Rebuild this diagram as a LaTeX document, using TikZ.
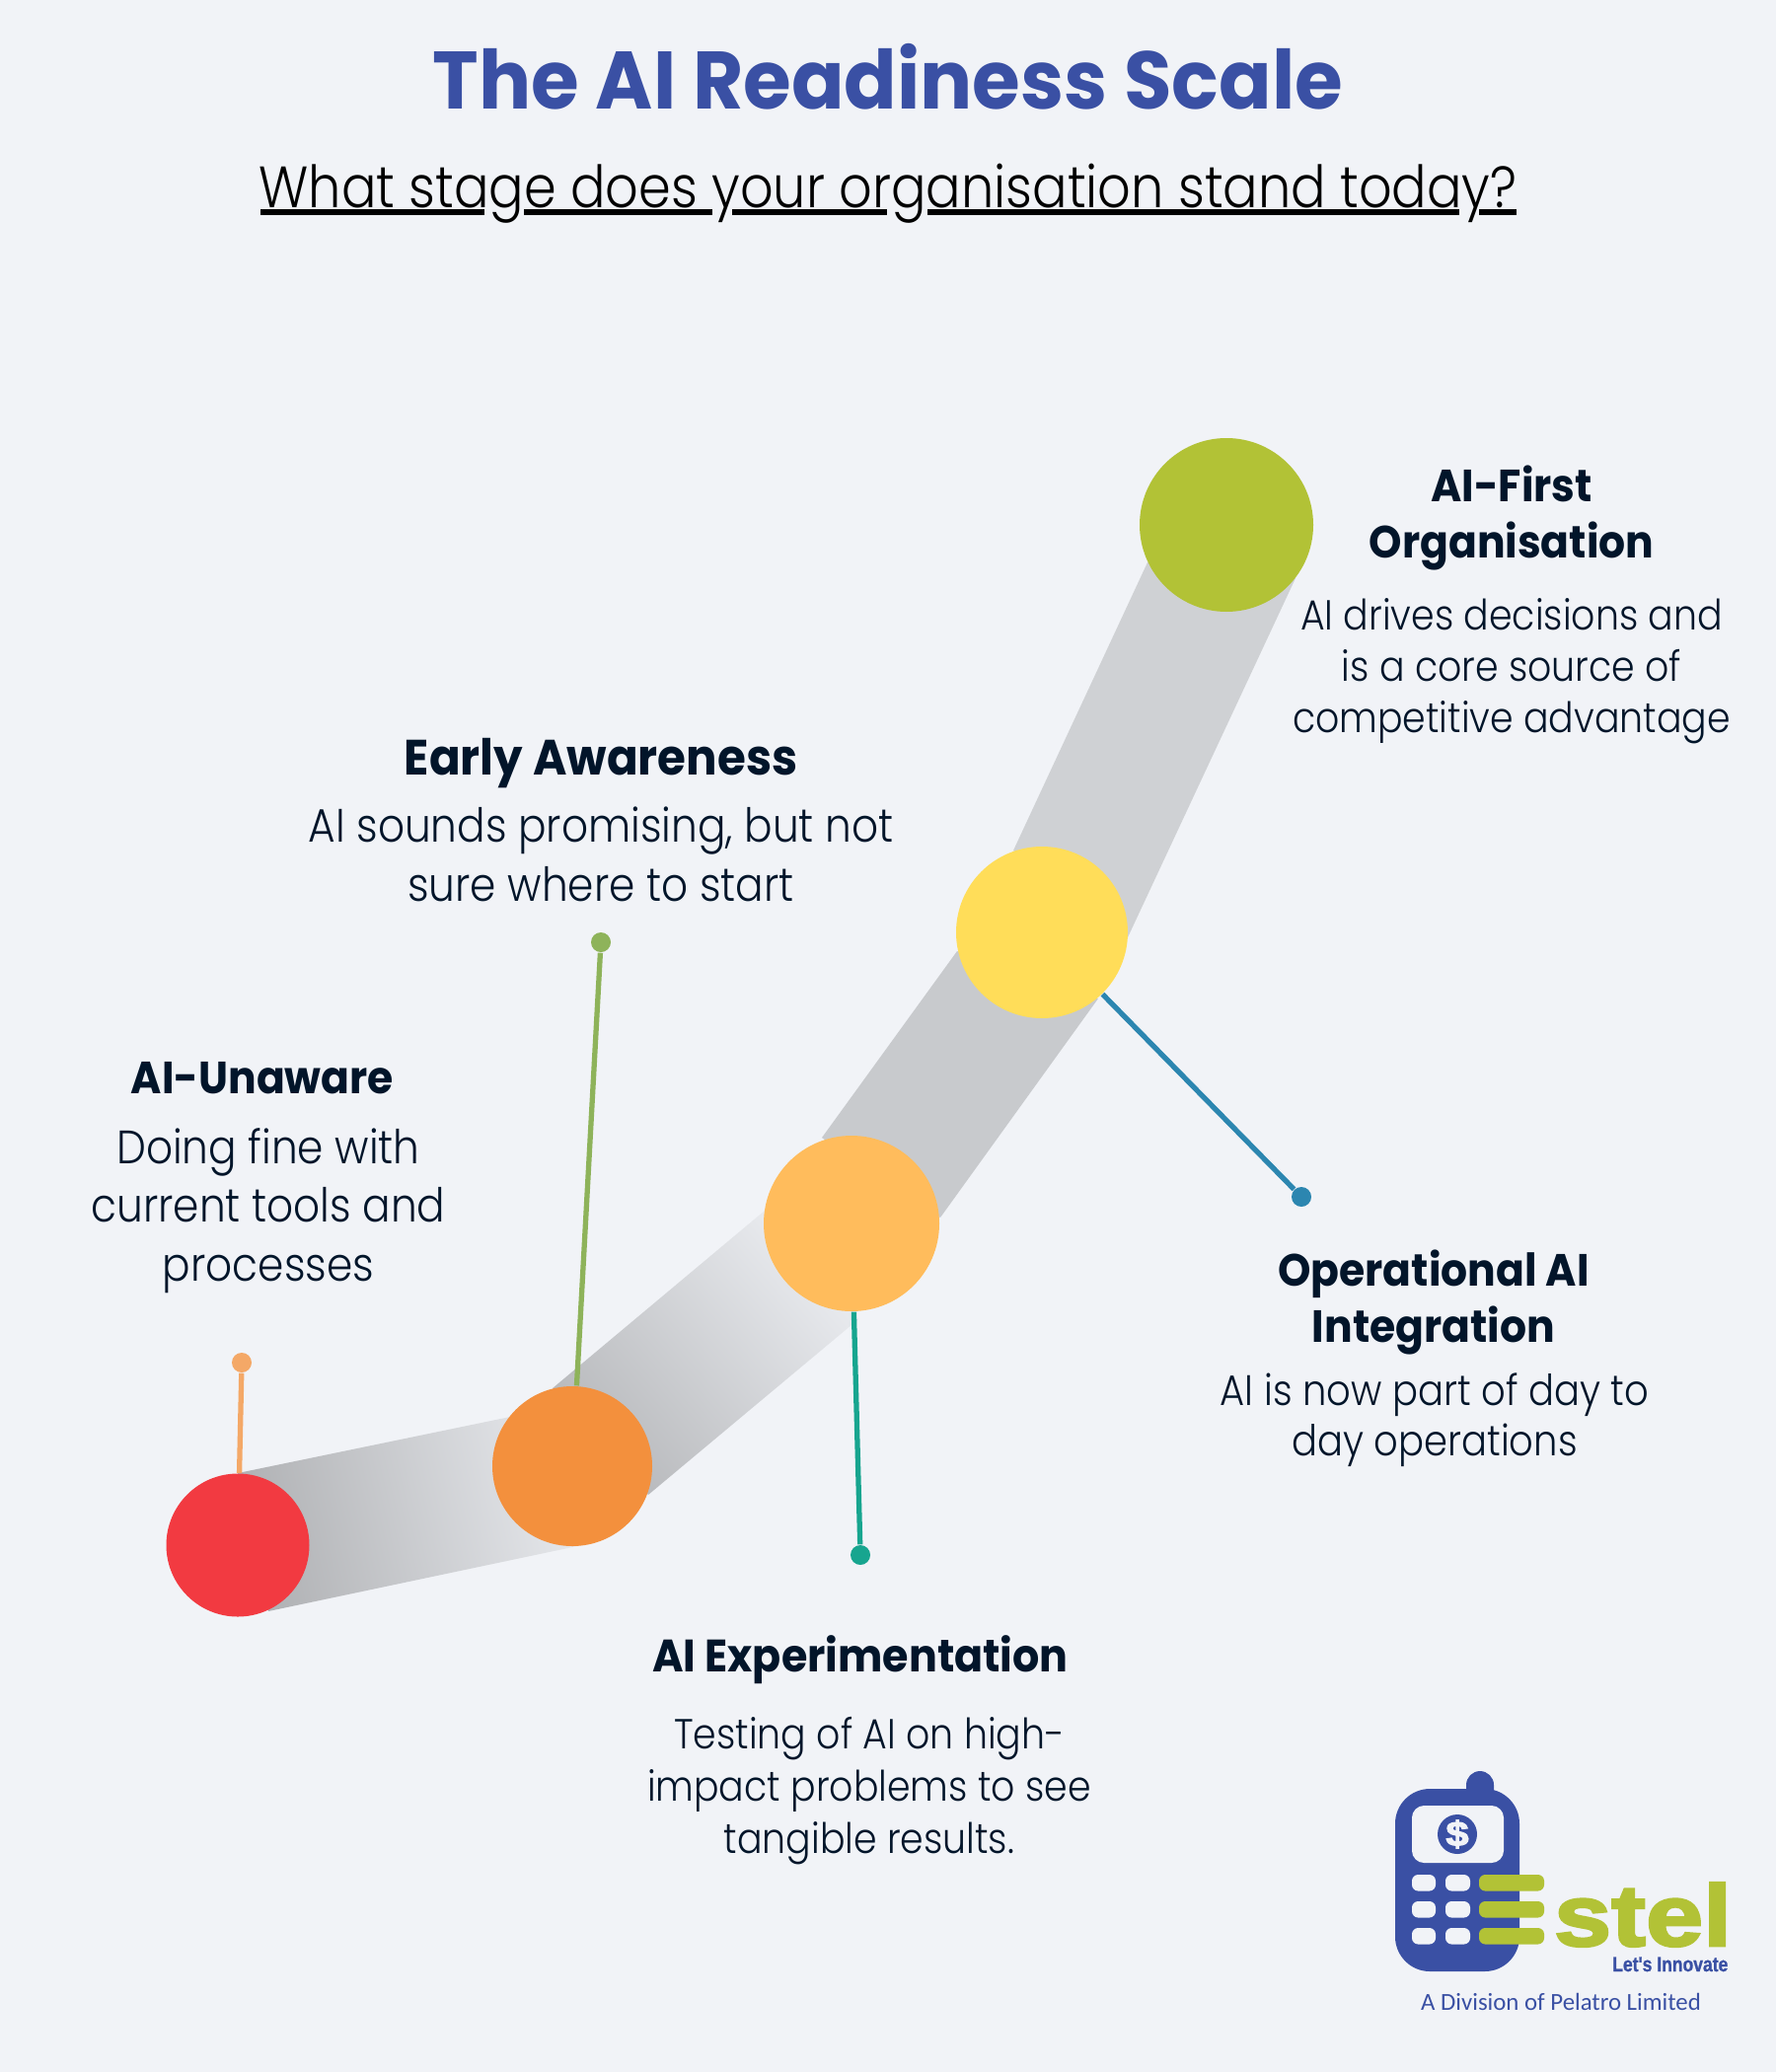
\documentclass[tikz,border=0pt]{standalone}
\usepackage{fontspec}
\setmainfont{Poppins}
\newfontfamily\bodyfont[FakeStretch=0.89]{Poppins Light}
\newfontfamily\headfont[BoldFeatures={FakeStretch=0.93}]{Poppins}
\newfontfamily\titlefont[BoldFeatures={FakeStretch=0.955}]{Poppins}
\newfontfamily\logofont[BoldFeatures={FakeStretch=1.19,FakeBold=3}]{Liberation Sans}
\newfontfamily\tagfont[BoldFeatures={FakeStretch=0.83,FakeBold=1}]{Liberation Sans}
\newfontfamily\divfont{Carlito}
\definecolor{paper}{HTML}{F1F3F7}
\definecolor{inkcol}{HTML}{02152A}
\definecolor{brandblue}{HTML}{3A50A4}
\definecolor{brandgreen}{HTML}{B2C236}
\definecolor{stagered}{HTML}{F23A41}
\definecolor{stageorange}{HTML}{F3903D}
\definecolor{stageamber}{HTML}{FFBC5C}
\definecolor{stageyellow}{HTML}{FFDD59}
\definecolor{pinpeach}{HTML}{F4A867}
\definecolor{pinolive}{HTML}{8EB35A}
\definecolor{pinteal}{HTML}{17A58F}
\definecolor{pinblue}{HTML}{2C86B0}
\tikzset{
  stagedot/.style={circle,fill=#1,inner sep=0pt},
  pindot/.style={circle,fill=#1,inner sep=0pt,minimum size=20*0.01cm},
  pinline/.style={draw=#1,line width=1.5pt},
  stagehead/.style 2 args={anchor=base,inner sep=0pt,align=center,text=inkcol,font=\headfont\bfseries\fontsize{#1}{#2}\selectfont},
  stagebody/.style 2 args={anchor=base,inner sep=0pt,align=center,text=inkcol,font=\bodyfont\fontsize{#1}{#2}\selectfont},
  keycap/.style={fill=paper,rounded corners=1.8pt}
}
\begin{document}
\begin{tikzpicture}[x=0.01cm,y=-0.01cm]
  \useasboundingbox (0,0) rectangle (1800,2100);
  \fill[paper] (0,0) rectangle (1800,2100);

  \shade[bottom color=black!27!paper,top color=black!5!paper,shading angle=-77] (241,1493) -- (580,1423) -- (585,1567) -- (272,1633) -- cycle;
  \shade[bottom color=black!24!paper,top color=black!3!paper,shading angle=-49] (560,1407) -- (775,1227) -- (870,1337) -- (657,1515) -- cycle;
  \fill[black!17!paper] (833,1153) -- (970,964) -- (1113,1012) -- (953,1234) -- cycle;
  \fill[black!14!paper] (1027,862) -- (1163,570) -- (1313,586) -- (1143,950) -- cycle;

  \node[stagedot=stagered,minimum size=145*0.01cm] (unaware) at (241,1566) {};
  \node[stagedot=stageorange,minimum size=162*0.01cm] (early) at (580,1486) {};
  \node[stagedot=stageamber,minimum size=178*0.01cm] (experiment) at (863,1240) {};
  \node[stagedot=stageyellow,minimum size=174*0.01cm] (operational) at (1056,945) {};
  \node[stagedot=brandgreen,minimum size=176*0.01cm] (aifirst) at (1243,532) {};

  \foreach \pin/\stage/\col/\pos in {unawarepin/unaware/pinpeach/{245,1381},earlypin/early/pinolive/{609,955},experimentpin/experiment/pinteal/{872,1576},operationalpin/operational/pinblue/{1319,1213}} {
    \node[pindot=\col] (\pin) at (\pos) {};
    \draw[pinline=\col] (\stage) -- (\pin);
  }

  \node[anchor=base,text=brandblue,font=\titlefont\bfseries\fontsize{23.5}{28}\selectfont] (title) at (900,110.5) {The AI Readiness Scale};
  \node[anchor=base,text=black,font=\bodyfont\fontsize{16.8}{20}\selectfont] (subtitle) at (900,210) {What stage does your organisation stand today?};
  \foreach \a/\b in {264/491,531/722,742/899,940/1479,1499/1537} {
    \draw[line width=1.7pt] (\a,215) -- (\b,215);
  }

  \node[stagehead={13}{16.2}] (firsthead) at (1532,565.5) {AI-First\\Organisation};
  \node[stagebody={12.1}{14.8}] (firstbody) at (1532,742.5) {AI drives decisions and\\is a core source of\\competitive advantage};
  \node[stagehead={14.3}{16.2}] (earlyhead) at (609,785) {Early Awareness};
  \node[stagebody={13.5}{16.8}] (earlybody) at (609,913) {AI sounds promising, but not\\sure where to start};
  \node[stagehead={13}{16.2}] (unawarehead) at (266,1108) {AI-Unaware};
  \node[stagebody={13.5}{16.8}] (unawarebody) at (272,1298) {Doing fine with\\current tools and\\processes};
  \node[stagehead={13.1}{16.2}] (experimenthead) at (872,1694) {AI Experimentation};
  \node[stagebody={12.1}{15}] (experimentbody) at (881,1878) {Testing of AI on high-\\impact problems to see\\tangible results.};
  \node[stagehead={13}{16.2}] (operationalhead) at (1453,1360) {Operational AI\\Integration};
  \node[stagebody={12.3}{14.5}] (operationalbody) at (1454,1475) {AI is now part of day to\\day operations};

  \fill[brandblue,rounded corners=4pt] (1486,1830) -- (1486,1795) -- (1514,1795) -- (1514,1830) -- cycle;
  \fill[brandblue,rounded corners=10pt] (1414,1813) rectangle (1540,1998);
  \fill[paper,rounded corners=3.5pt] (1431,1830) rectangle (1524,1888);
  \fill[brandblue] (1477,1859) circle (20);
  \node[text=paper,font=\logofont\bfseries\fontsize{10}{12}\selectfont] (dollar) at (1477,1859) {\$};
  \foreach \y in {1900,1927,1954} {
    \fill[keycap] (1431,\y) rectangle (1455,\y+16.5);
    \fill[keycap] (1465,\y) rectangle (1490,\y+16.5);
    \fill[brandgreen,rounded corners=1.8pt] (1499,\y) rectangle (1565,\y+16.5);
  }
  \node[anchor=base east,inner sep=0pt,text=brandgreen,font=\logofont\bfseries\fontsize{25}{30}\selectfont] (stel) at (1756,1972) {stel};
  \node[anchor=base east,inner sep=0pt,text=brandblue,font=\tagfont\bfseries\fontsize{6}{7}\selectfont] (innovate) at (1752,1998) {Let's Innovate};
  \node[anchor=base,inner sep=0pt,text=brandblue,font=\divfont\fontsize{7.06}{10}\selectfont] (division) at (1582,2037) {A Division of Pelatro Limited};
\end{tikzpicture}
\end{document}
